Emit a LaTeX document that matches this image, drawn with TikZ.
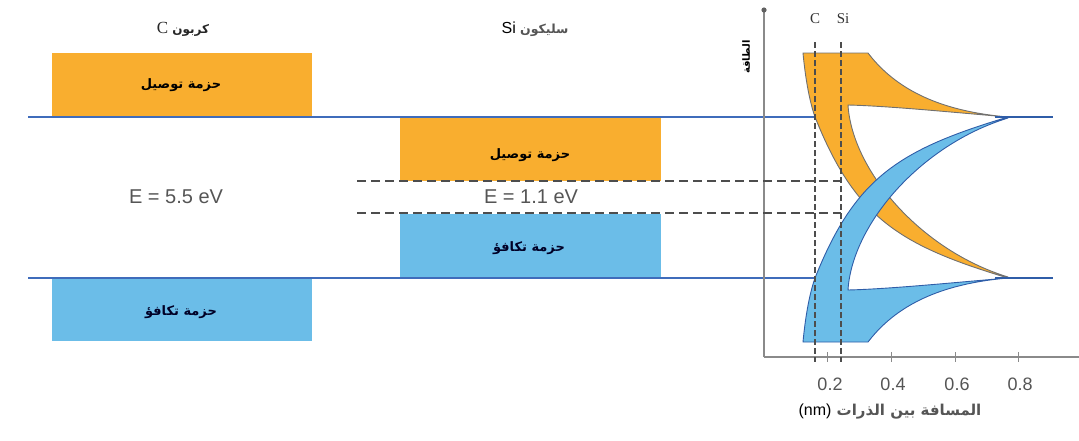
\documentclass[tikz,border=0pt]{standalone}
\usepackage{fontspec}
\setmainfont{Liberation Sans}
\newfontfamily\arabicfont[Script=Arabic]{DejaVu Sans}
\newfontfamily\serifC{Liberation Serif}
\TeXXeTstate=1
\definecolor{bandO}{HTML}{F9AE2F}
\definecolor{bandB}{HTML}{6BBDE8}
\definecolor{lineB}{HTML}{3F6CBB}
\definecolor{edgeB}{HTML}{2F5DA8}
\definecolor{edgeO}{HTML}{707070}
\definecolor{axisG}{HTML}{8A8A8A}
\definecolor{dashG}{HTML}{4D4D4D}
\definecolor{txtG}{HTML}{555555}
\tikzset{
  levelline/.style={lineB, line width=1.8pt},
  obox/.style={fill=bandO, draw=none},
  bbox/.style={fill=bandB, draw=none},
  gapline/.style={dashG, line width=1.4pt, dash pattern=on 9pt off 5pt},
  vline/.style={dashG, line width=1.3pt, dash pattern=on 6pt off 3pt},
  artext/.style={font=\arabicfont\bfseries\fontsize{13}{15}\selectfont, text=black, inner sep=0pt},
  artextB/.style={font=\arabicfont\bfseries\fontsize{13}{15}\selectfont, text=black!85!blue, inner sep=0pt},
  etext/.style={font=\fontsize{20}{23}\selectfont, text=txtG, inner sep=0pt},
  ticklab/.style={font=\fontsize{18}{20}\selectfont, text=txtG, inner sep=0pt},
  axisline/.style={axisG, line width=1.5pt},
}
\begin{document}
\begin{tikzpicture}[x=1pt,y=-1pt]
\useasboundingbox (0,0) rectangle (1079,440);
% carbon bands
\fill[obox] (52,53) rectangle (312,117);
\fill[bbox] (52,278) rectangle (312,341);
% silicon bands
\fill[obox] (400,117) rectangle (661,181);
\fill[bbox] (400,214) rectangle (661,278);
% level lines
\coordinate (L1a) at (28,117);
\coordinate (L1b) at (815,117);
\coordinate (L1c) at (995,117);
\coordinate (L1d) at (1053,117);
\coordinate (L2a) at (28,278);
\coordinate (L2b) at (815,278);
\coordinate (L2c) at (995,278);
\coordinate (L2d) at (1053,278);
\draw[levelline] (L1a) -- (L1b);
\draw[levelline] (L2a) -- (L2b);
% gap dashed lines
\coordinate (G1a) at (357,181);
\coordinate (G1b) at (841,181);
\coordinate (G2a) at (357,213);
\coordinate (G2b) at (841,213);
% axes
\coordinate (O) at (764,357);
\coordinate (Ytop) at (764,10);
\coordinate (Xend) at (1079,357);
\draw[axisline] (O) -- (Ytop);
\fill[axisG!70!black] (Ytop) circle (2.6);
\draw[axisline] (O) -- (Xend);
\foreach \xx in {827.7,891.4,955.1,1018.8} {
  \draw[axisG, line width=1.2pt] (\xx,352) -- (\xx,362);
}
\node[ticklab] (t2) at (830,384) {0.2};
\node[ticklab] (t4) at (893,384) {0.4};
\node[ticklab] (t6) at (957,384) {0.6};
\node[ticklab] (t8) at (1020,384) {0.8};
% orange band curve
\filldraw[fill=bandO, draw=edgeO, line width=0.9pt]
  (803,53) -- (868,53)
  .. controls (900,95) and (950,112) .. (1008,117)
  .. controls (960,113) and (890,106) .. (848,105)
  .. controls (852,170) and (920,250) .. (1008,277)
  -- (1008,278)
  .. controls (898,245) and (855,217) .. (815,117)
  .. controls (809,100) and (805,75) .. (803,53) -- cycle;
% blue band curve
\filldraw[fill=bandB, draw=edgeB, line width=0.9pt]
  (803,342) -- (868,342)
  .. controls (900,300) and (950,283) .. (1008,278)
  .. controls (960,282) and (890,289) .. (848,290)
  .. controls (852,225) and (920,145) .. (1008,118)
  -- (1008,117)
  .. controls (898,150) and (855,178) .. (815,278)
  .. controls (809,295) and (805,320) .. (803,342) -- cycle;
\draw[levelline, edgeB] (L1c) -- (L1d);
\draw[levelline, edgeB] (L2c) -- (L2d);
% gap dashed
\draw[gapline] (G1a) -- (G1b);
\draw[gapline] (G2a) -- (G2b);
% vertical dashed lines
\coordinate (VC1) at (815,42);
\coordinate (VC2) at (815,362);
\coordinate (VS1) at (841,42);
\coordinate (VS2) at (841,362);
\draw[vline] (VC1) -- (VC2);
\draw[vline] (VS1) -- (VS2);
\node[font=\serifC\fontsize{15}{17}\selectfont, text=black!80, inner sep=0pt] (Clab) at (815,19) {C};
\node[font=\serifC\fontsize{15}{17}\selectfont, text=black!80, inner sep=0pt] (Silab) at (843,19) {Si};
% texts
\node[artext] (cct) at (181,85) {\beginR حزمة توصيل\endR};
\node[artextB] (cvt) at (181,312) {\beginR حزمة تكافؤ\endR};
\node[artext] (sct) at (530,155) {\beginR حزمة توصيل\endR};
\node[artextB] (svt) at (529,248) {\beginR حزمة تكافؤ\endR};
\node[etext] (e55) at (176,197) {E = 5.5 eV};
\node[etext] (e11) at (531,197) {E = 1.1 eV};
\node[inner sep=0pt, text=black!85] (ctitle) at (183,29) {\beginR{\arabicfont\bfseries\fontsize{12}{14}\selectfont كربون }{\serifC\fontsize{17}{19}\selectfont C}\endR};
\node[inner sep=0pt, text=black!85] (stitle) at (535,29) {\beginR{\arabicfont\bfseries\fontsize{12.5}{14}\selectfont سليكون }{\fontsize{16}{18}\selectfont\color{txtG}\beginL Si\endL}\endR};
\node[inner sep=0pt, rotate=90, font=\arabicfont\bfseries\fontsize{10}{12}\selectfont] (ylab) at (746,57) {\beginR الطاقة\endR};
\node[inner sep=0pt, text=black!80] (xlab) at (890,412) {\beginR{\arabicfont\bfseries\fontsize{15}{17}\selectfont المسافة بين الذرات }{\fontsize{16}{18}\selectfont\color{txtG}\beginL(nm)\endL}\endR};
\end{tikzpicture}
\end{document}
